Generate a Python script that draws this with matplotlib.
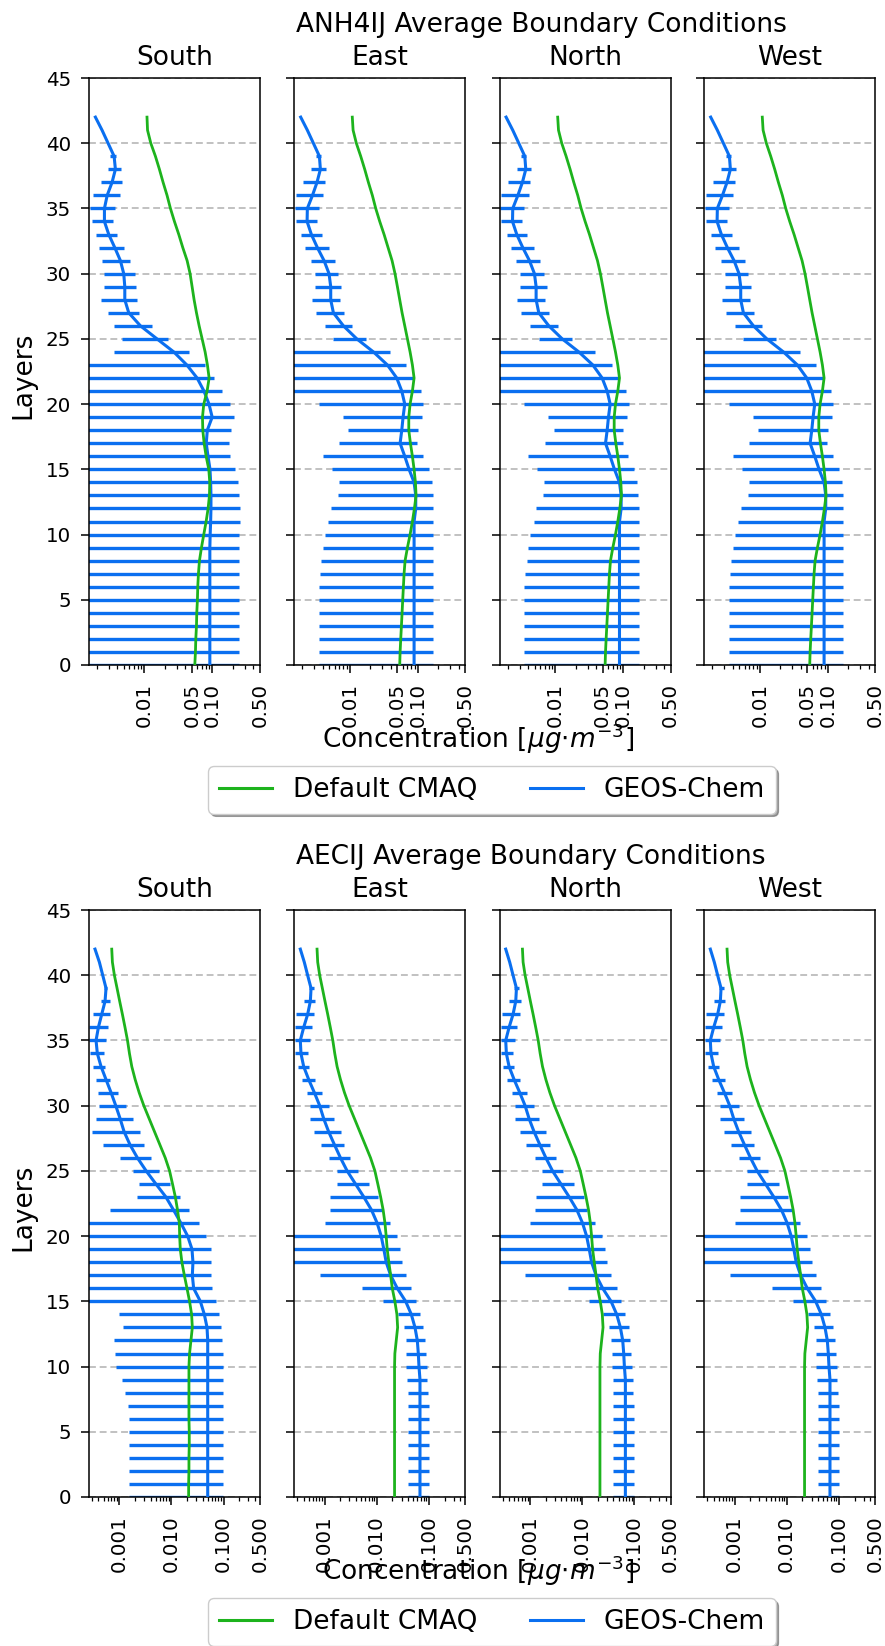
import matplotlib
matplotlib.use("Agg")
import matplotlib.pyplot as plt
from matplotlib.ticker import LogLocator, NullFormatter
from matplotlib.lines import Line2D
import numpy as np

# ---------------- data ----------------
layers = list(range(43))          # model layer index (0 .. 42)
err_layers = layers[:40]          # layers that carry a GEOS-Chem spread bar
sides = ["South", "East", "North", "West"]

# ---- ANH4IJ ----
anh4_south_cmaq = [0.055, 0.0562, 0.0569, 0.0582, 0.0588, 0.0601, 0.0608, 0.0622, 0.0644, 0.0689,
                   0.0745, 0.0807, 0.0863, 0.0903, 0.0913, 0.0883, 0.0807, 0.0754, 0.0721, 0.0713,
                   0.0745, 0.0834, 0.0893, 0.0843, 0.078, 0.0705, 0.0637, 0.0582, 0.0537, 0.0502,
                   0.0469, 0.0424, 0.0366, 0.032, 0.0276, 0.0241, 0.0215, 0.0188, 0.0166, 0.0145,
                   0.0124, 0.0111, 0.0109]
anh4_south_geos = [0.0915, 0.0915, 0.0915, 0.0915, 0.0915, 0.0915, 0.0915, 0.0915, 0.0915, 0.0915,
                   0.0925, 0.094, 0.095, 0.095, 0.094, 0.092, 0.086, 0.081, 0.084, 0.099,
                   0.089, 0.075, 0.0595, 0.042, 0.027, 0.0153, 0.00873, 0.00588, 0.00514, 0.00514,
                   0.00496, 0.00443, 0.00366, 0.00299, 0.00258, 0.00258, 0.00283, 0.00334, 0.00374, 0.00358,
                   0.00292, 0.00238, 0.0019]
anh4_south_hi = [0.249, 0.249, 0.249, 0.249, 0.249, 0.249, 0.249, 0.249, 0.249, 0.249,
                 0.249, 0.252, 0.252, 0.249, 0.238, 0.215, 0.18, 0.174, 0.19, 0.21,
                 0.184, 0.139, 0.105, 0.078, 0.0449, 0.0223, 0.0127, 0.00834, 0.0078, 0.00745,
                 0.00721, 0.00622, 0.00508, 0.00396, 0.00346, 0.00374, 0.00434, 0.00469, 0.00454, 0.00387]
anh4_south_lo = [0, 0, 0, 0, 0, 0, 0, 0, 0, 0,
                 0, 0, 0, 0, 0, 0, 0, 0, 0, 0,
                 0, 0, 0, 0, 0.00358, 0.00475, 0.00354, 0.00289, 0.00233, 0.00255,
                 0.00255, 0.00241, 0.00213, 0.00192, 0.0017, 0.00157, 0.00174, 0.00231, 0.00292, 0.00316]

anh4_east_cmaq = [0.0543, 0.055, 0.0562, 0.0575, 0.0588, 0.0601, 0.0615, 0.0629, 0.0651, 0.0705,
                  0.0771, 0.0834, 0.0893, 0.0944, 0.0924, 0.0883, 0.0834, 0.078, 0.0738, 0.0738,
                  0.0771, 0.0834, 0.0883, 0.0834, 0.0771, 0.0705, 0.0644, 0.0588, 0.0543, 0.0502,
                  0.0463, 0.0419, 0.0366, 0.032, 0.0276, 0.0241, 0.0215, 0.0188, 0.0166, 0.0145,
                  0.0125, 0.0112, 0.0109]
anh4_east_geos = [0.0883, 0.0883, 0.0883, 0.0883, 0.0883, 0.0883, 0.0883, 0.0883, 0.0883, 0.0883,
                  0.0883, 0.0883, 0.0934, 0.0934, 0.0883, 0.0745, 0.0644, 0.055, 0.0582, 0.0608,
                  0.0644, 0.0582, 0.0491, 0.0358, 0.0223, 0.0127, 0.00807, 0.00575, 0.00525, 0.00525,
                  0.00496, 0.00419, 0.00334, 0.00273, 0.00236, 0.00238, 0.00283, 0.0033, 0.0037, 0.00358,
                  0.00292, 0.00238, 0.0019]
anh4_east_hi = [0.170, 0.170, 0.170, 0.170, 0.170, 0.170, 0.170, 0.170, 0.170, 0.170,
                0.170, 0.170, 0.170, 0.166, 0.161, 0.144, 0.118, 0.0989, 0.1, 0.115,
                0.121, 0.111, 0.0883, 0.0681, 0.0387, 0.0176, 0.0109, 0.00824, 0.00721, 0.00754,
                0.00681, 0.00608, 0.00496, 0.00387, 0.00327, 0.00354, 0.0041, 0.00434, 0.00443, 0.00374]
anh4_east_lo = [0.00354, 0.00354, 0.00354, 0.00354, 0.00354, 0.00354, 0.00354, 0.00366, 0.00383, 0.00405,
                0.00434, 0.00485, 0.00525, 0.00665, 0.00689, 0.0055, 0.00405, 0.00705, 0.00955, 0.00798,
                0.00354, 0, 0, 0, 0, 0.00575, 0.00429, 0.00316, 0.00279, 0.00309,
                0.00309, 0.00267, 0.00223, 0.00195, 0.00161, 0.00157, 0.00161, 0.00206, 0.00273, 0.00316]

# ---- AECIJ ----
aec_south_cmaq = [0.0214, 0.0214, 0.0217, 0.0217, 0.022, 0.022, 0.0217, 0.0217, 0.0217, 0.0217,
                  0.0217, 0.0223, 0.0237, 0.0252, 0.0244, 0.0223, 0.0199, 0.0177, 0.0159, 0.0148,
                  0.0144, 0.0142, 0.0131, 0.0119, 0.0105, 0.00923, 0.00762, 0.00602, 0.00475, 0.00375,
                  0.00296, 0.00241, 0.00202, 0.00174, 0.00157, 0.00144, 0.00129, 0.00115, 0.00102, 0.000908,
                  0.000807, 0.000739, 0.000718]
aec_south_geos = [0.0497, 0.0497, 0.0497, 0.0497, 0.0497, 0.0497, 0.0497, 0.0497, 0.0497, 0.0497,
                  0.0497, 0.0497, 0.0497, 0.0482, 0.0428, 0.0359, 0.0267, 0.0252, 0.0259, 0.0248,
                  0.0205, 0.0152, 0.011, 0.00784, 0.00504, 0.00328, 0.00223, 0.00161, 0.00124, 0.00104,
                  0.000857, 0.000697, 0.000558, 0.000448, 0.00038, 0.000359, 0.000398, 0.000461, 0.000534, 0.000558,
                  0.000482, 0.000416, 0.000343]
aec_south_hi = [0.0993, 0.0993, 0.0993, 0.0993, 0.0993, 0.0993, 0.0993, 0.0993, 0.0993, 0.0964,
                0.0964, 0.0964, 0.0936, 0.0895, 0.082, 0.0707, 0.0601, 0.0575, 0.0583, 0.0575,
                0.0468, 0.0338, 0.022, 0.0148, 0.00923, 0.00583, 0.00409, 0.00301, 0.00252, 0.00182,
                0.00136, 0.000935, 0.000667, 0.000534, 0.000511, 0.000558, 0.000619, 0.000667, 0.000667, 0.000593]
aec_south_lo = [0.00155, 0.00155, 0.00155, 0.00155, 0.00155, 0.00155, 0.00152, 0.00144, 0.00129, 0.00112,
                0.000882, 0.000844, 0.000807, 0.0012, 0.000993, 0, 0, 0, 0, 0,
                0, 0, 0.000667, 0.00223, 0.00244, 0.00187, 0.00104, 0.000497, 0.000301, 0.000359,
                0.000416, 0.000398, 0.000359, 0.00031, 0.000275, 0.000267, 0.000267, 0.000319, 0.000441, 0.000511]

aec_east_cmaq = [0.022, 0.022, 0.022, 0.022, 0.022, 0.022, 0.022, 0.022, 0.022, 0.022,
                 0.022, 0.0223, 0.0237, 0.0252, 0.0244, 0.0223, 0.0199, 0.0185, 0.0171, 0.0159,
                 0.0152, 0.0144, 0.0133, 0.0119, 0.0105, 0.00923, 0.00762, 0.00602, 0.00475, 0.00375,
                 0.00296, 0.00241, 0.00202, 0.00174, 0.00157, 0.00144, 0.00129, 0.00115, 0.00102, 0.000908,
                 0.000807, 0.000739, 0.000718]
aec_east_geos = [0.0676, 0.0676, 0.0676, 0.0676, 0.0676, 0.0676, 0.0676, 0.0676, 0.0676, 0.0676,
                 0.0647, 0.0628, 0.0601, 0.0542, 0.0461, 0.0359, 0.0248, 0.0185, 0.0152, 0.0137,
                 0.0122, 0.0102, 0.00796, 0.00566, 0.00392, 0.00271, 0.00202, 0.00155, 0.0012, 0.000964,
                 0.000807, 0.000638, 0.000497, 0.000398, 0.000353, 0.000343, 0.000398, 0.000474, 0.000534, 0.000551,
                 0.000474, 0.000409, 0.000343]
aec_east_hi = [0.101, 0.101, 0.101, 0.101, 0.101, 0.101, 0.101, 0.101, 0.0964, 0.0936,
               0.0908, 0.0882, 0.0844, 0.0784, 0.0676, 0.0566, 0.0461, 0.0364, 0.0305, 0.0279,
               0.0241, 0.0179, 0.0124, 0.0107, 0.00707, 0.00434, 0.00314, 0.00241, 0.00207, 0.0015,
               0.0012, 0.000895, 0.000647, 0.000497, 0.000482, 0.000519, 0.000575, 0.000638, 0.000667, 0.000619]
aec_east_lo = [0.0398, 0.0398, 0.0398, 0.0398, 0.0398, 0.0398, 0.0398, 0.0398, 0.0398, 0.0387,
               0.0369, 0.0369, 0.0359, 0.0333, 0.0255, 0.0133, 0.00526, 0.000807, 0, 0,
               0, 0.00101, 0.00126, 0.00129, 0.00174, 0.00174, 0.00124, 0.000857, 0.000638, 0.000519,
               0.000519, 0.000461, 0.000369, 0.00031, 0.000275, 0.000275, 0.000275, 0.000287, 0.000398, 0.000497]

# North and West boundaries read identical to East in the picture
anh4_panels = {
    "South": (anh4_south_cmaq, anh4_south_geos, anh4_south_lo, anh4_south_hi),
    "East": (anh4_east_cmaq, anh4_east_geos, anh4_east_lo, anh4_east_hi),
    "North": (anh4_east_cmaq, anh4_east_geos, anh4_east_lo, anh4_east_hi),
    "West": (anh4_east_cmaq, anh4_east_geos, anh4_east_lo, anh4_east_hi),
}
aec_panels = {
    "South": (aec_south_cmaq, aec_south_geos, aec_south_lo, aec_south_hi),
    "East": (aec_east_cmaq, aec_east_geos, aec_east_lo, aec_east_hi),
    "North": (aec_east_cmaq, aec_east_geos, aec_east_lo, aec_east_hi),
    "West": (aec_east_cmaq, aec_east_geos, aec_east_lo, aec_east_hi),
}

anh4_xticks = [0.01, 0.05, 0.1, 0.5]
anh4_xticklabels = ["0.01", "0.05", "0.10", "0.50"]
aec_xticks = [0.001, 0.01, 0.1, 0.5]
aec_xticklabels = ["0.001", "0.010", "0.100", "0.500"]

species_titles = ["ANH4IJ Average Boundary Conditions", "AECIJ Average Boundary Conditions"]
legend_labels = ["Default CMAQ", "GEOS-Chem"]

# ---------------- style / layout ----------------
GREEN = "#1db31d"
BLUE = "#0a6ff0"
W, H = 885, 1646
fig = plt.figure(figsize=(W / 100, H / 100), dpi=100)

BIG = 19
TICK = 14.3
ax_lefts = [89, 294.3, 499.7, 704.3]
ax_w = 171
ax_h = 587

groups = [
    dict(title=species_titles[0], top=78, panels=anh4_panels, xlim=(0.00153, 0.5),
         ticks=anh4_xticks, labels=anh4_xticklabels),
    dict(title=species_titles[1], top=910, panels=aec_panels, xlim=(0.000263, 0.5),
         ticks=aec_xticks, labels=aec_xticklabels),
]

for g in groups:
    top = g["top"]
    bottom = top + ax_h
    for i, side in enumerate(sides):
        cmaq, geos, lo, hi = g["panels"][side]
        geos = np.asarray(geos, dtype=float)
        lo = np.asarray(lo, dtype=float)
        hi = np.asarray(hi, dtype=float)
        ax = fig.add_axes([ax_lefts[i] / W, 1 - bottom / H, ax_w / W, ax_h / H])
        ax.set_xscale("log")
        ax.yaxis.grid(True, linestyle=(0, (4.5, 2.5)), color="#b0b0b0", linewidth=1.1)
        ax.set_axisbelow(True)
        m = geos[:len(err_layers)]
        ax.errorbar(m, err_layers, xerr=[m - lo, hi - m], fmt="none",
                    ecolor=BLUE, elinewidth=2.4, capsize=0, zorder=2)
        ax.plot(geos, layers, color=BLUE, lw=2.2, zorder=3)
        ax.plot(cmaq, layers, color=GREEN, lw=2.0, zorder=4)
        ax.set_xlim(*g["xlim"])
        ax.set_ylim(0, 45)
        ax.set_yticks(range(0, 46, 5))
        ax.set_xticks(g["ticks"])
        ax.set_xticklabels(g["labels"], rotation=90)
        ax.xaxis.set_minor_locator(LogLocator(base=10, subs=np.arange(2, 10)))
        ax.xaxis.set_minor_formatter(NullFormatter())
        ax.tick_params(which="major", length=5.8, width=1.1, labelsize=TICK, pad=7)
        ax.tick_params(which="minor", length=3.0, width=0.9)
        for sp in ax.spines.values():
            sp.set_linewidth(1.1)
        if i > 0:
            ax.tick_params(labelleft=False)
        ax.set_title(side, fontsize=BIG, pad=9.4)

    fig.text(296 / W, 1 - (top - 46) / H, g["title"], fontsize=BIG, ha="left", va="baseline")
    fig.text(23.5 / W, 1 - (top + ax_h / 2 + 4) / H, "Layers", fontsize=BIG,
             rotation=90, ha="center", va="center")
    fig.text(478 / W, 1 - (bottom + 83) / H, r"Concentration [$\mu g{\cdot}m^{-3}$]",
             fontsize=BIG, ha="center", va="baseline")
    handles = [Line2D([], [], color=GREEN, lw=2.2), Line2D([], [], color=BLUE, lw=2.2)]
    fig.legend(handles, legend_labels, ncol=2, loc="center",
               bbox_to_anchor=(492 / W, 1 - (bottom + 125) / H), fontsize=BIG,
               shadow=True, fancybox=True, frameon=True)

fig.savefig("out.png", dpi=100)
